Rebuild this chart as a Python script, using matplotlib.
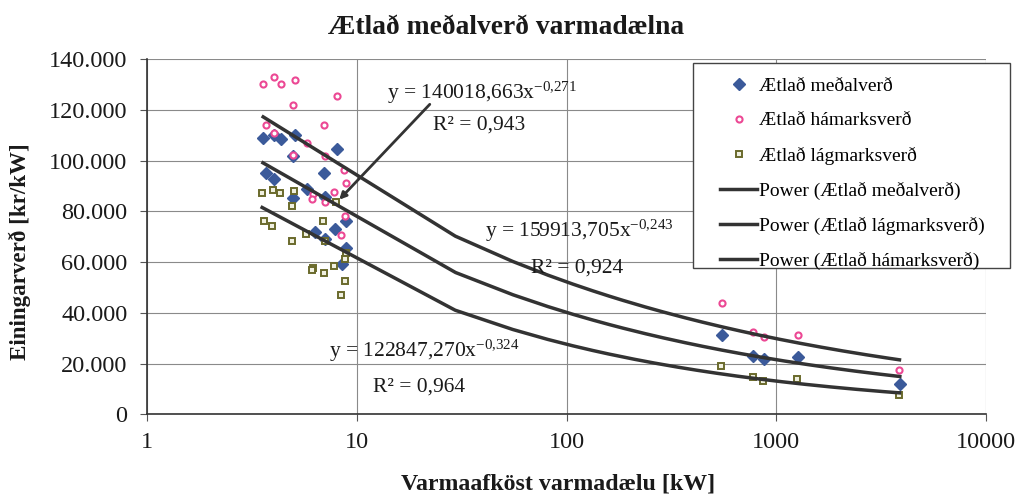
import numpy as np
import matplotlib
matplotlib.use("Agg")
import matplotlib.pyplot as plt
from matplotlib.patches import Rectangle

plt.rcParams['font.family'] = ['Liberation Serif', 'DejaVu Serif']
plt.rcParams['mathtext.fontset'] = 'custom'
plt.rcParams['mathtext.rm'] = 'Liberation Serif'
plt.rcParams['mathtext.it'] = 'Liberation Serif:italic'
plt.rcParams['mathtext.bf'] = 'Liberation Serif:bold'

# ---------------- data ----------------
title = "Ætlað meðalverð varmadælna"
xlabel = "Varmaafköst varmadælu [kW]"
ylabel = "Einingarverð [kr/kW]"

series_names = ["Ætlað meðalverð", "Ætlað hámarksverð", "Ætlað lágmarksverð"]

x_avg = [3.57, 4.03, 4.34, 5.09, 8.07, 4.97, 6.99, 3.69, 4.03, 5.82, 4.97, 7.07,
         8.91, 6.31, 7.91, 7.07, 8.91, 8.55, 551, 778, 873, 1267, 3883]
y_avg = [109000, 110300, 108700, 110000, 104500, 101900, 95100, 95300, 92900, 89000,
         85300, 85500, 76100, 71900, 72900, 69200, 65700, 59100, 31200, 22900, 21800,
         22450, 12000]

x_max = [3.58, 4.03, 4.34, 5.09, 8.07, 4.99, 3.68, 4.03, 6.96, 5.82, 4.97, 7.04,
         8.71, 8.84, 7.78, 6.21, 6.13, 7.04, 8.81, 8.43, 551, 778, 871, 1263, 3868]
y_max = [130400, 133000, 130400, 131900, 125600, 122100, 114200, 111000, 114200, 107100,
         102100, 101700, 96450, 91300, 87700, 86700, 85000, 83700, 78200, 70900,
         44000, 32500, 30500, 31400, 17500]

x_min = [3.54, 3.97, 4.29, 5.02, 4.93, 8.00, 3.62, 3.95, 6.91, 5.76, 4.93, 7.04,
         8.84, 8.79, 6.21, 6.13, 6.99, 7.76, 8.79, 8.41, 548, 775, 868, 1260, 3868]
y_min = [87300, 88600, 87300, 88050, 82000, 83900, 76200, 74100, 76200, 71300,
         68300, 68300, 63700, 61100, 57800, 57000, 55700, 58300, 52600, 47200,
         19000, 14600, 13200, 13800, 7600]

# power trendlines  y = a * x^b   (order: meðal, lág, hámarks)
fit_names = ["Power (Ætlað meðalverð)", "Power (Ætlað lágmarksverð)", "Power (Ætlað hámarksverð)"]
fit_a = [140018.663, 122847.270, 159913.705]
fit_b = [-0.271, -0.324, -0.243]
fit_r2 = [0.943, 0.964, 0.924]

xticks = [1, 10, 100, 1000, 10000]
xticklabels = ["1", "10", "100", "1000", "10000"]
yticks = [0, 20000, 40000, 60000, 80000, 100000, 120000, 140000]
yticklabels = ["0", "20.000", "40.000", "60.000", "80.000", "100.000", "120.000", "140.000"]

# ---------------- figure ----------------
W, H = 1017, 496
fig = plt.figure(figsize=(W / 100, H / 100), dpi=100)
ax = fig.add_axes([147 / W, 1 - 414.3 / H, (986 - 147) / W, (414.3 - 59.3) / H])

c_avg = '#3B5A9A'
c_max = '#EC4894'
c_min = '#6A6A2C'
c_line = '#333333'

ax.plot(x_avg, y_avg, ls='none', marker='D', ms=5.8, mfc=c_avg, mec=c_avg,
        label=series_names[0], zorder=3)
ax.plot(x_max, y_max, ls='none', marker='o', ms=4.4, mfc='white', mec=c_max, mew=1.5,
        label=series_names[1], zorder=3)
ax.plot(x_min, y_min, ls='none', marker='s', ms=4.2, mfc='#f0f0e0', mec=c_min, mew=1.4,
        label=series_names[2], zorder=3)

# Excel samples its trendline at evenly spaced x values (gives the kink on a log axis)
ranges = [x_avg, x_min, x_max]
for name, a, b, xs in zip(fit_names, fit_a, fit_b, ranges):
    xx = np.linspace(min(xs), max(xs), 150)
    ax.plot(xx, a * xx ** b, color=c_line, lw=2.5, label=name, zorder=4,
            solid_joinstyle='round')

ax.set_xscale('log')
ax.set_xlim(1, 10000)
ax.set_ylim(0, 140000)
ax.set_xticks(xticks)
ax.set_xticklabels(xticklabels)
ax.xaxis.set_minor_locator(matplotlib.ticker.NullLocator())
ax.set_yticks(yticks)
ax.set_yticklabels(yticklabels)
ax.tick_params(axis='both', labelsize=17.5, length=5, width=0.8, color='#555555',
               labelcolor='#1a1a1a')
ax.tick_params(axis='x', pad=8)
ax.tick_params(axis='y', pad=9)
ax.grid(True, which='major', color='#8a8a8a', lw=0.8)
ax.set_axisbelow(True)
for s in ['top', 'right']:
    ax.spines[s].set_visible(False)
for s in ['left', 'bottom']:
    ax.spines[s].set_color('#333333')
    ax.spines[s].set_linewidth(1.2)

fig.text(506 / W, 1 - 28 / H, title, fontsize=19.8, fontweight='bold', color='#1a1a1a',
         ha='center', va='center')
ax.set_xlabel(xlabel, fontsize=17.2, fontweight='bold', color='#1a1a1a', va='center')
ax.xaxis.set_label_coords((558 - 147) / 839, (414.3 - 484) / 355)
ax.set_ylabel(ylabel, fontsize=16.6, fontweight='bold', color='#1a1a1a', va='center')
ax.yaxis.set_label_coords((20 - 147) / 839, (414.3 - 252) / 355)


def fmt(v, d):
    return f"{v:.{d}f}".replace('.', ',')


def eq_text(a, b):
    return "y = " + fmt(a, 3) + "x$^{" + fmt(b, 3).replace(',', '{,}') + "}$"


# annotation positions (axes fraction) for meðal, lág, hámarks
ann_eq = [(0.2857, 0.890), (0.2173, 0.1623), (0.4029, 0.5003)]
ann_r2 = [(0.3405, 0.8008), (0.269, 0.0637), (0.4577, 0.3989)]
for a, b, r2, pe, pr in zip(fit_a, fit_b, fit_r2, ann_eq, ann_r2):
    ax.text(pe[0], pe[1], eq_text(a, b), transform=ax.transAxes, fontsize=15.5,
            va='baseline', ha='left', color='#1a1a1a', zorder=6)
    ax.text(pr[0], pr[1], "R² = " + fmt(r2, 3), transform=ax.transAxes, fontsize=15.5,
            va='baseline', ha='left', color='#1a1a1a', zorder=6)

# arrow from the meðalverð label to its trendline
ax.annotate("", xy=((337.3 - 147) / 839, 1 - (201.7 - 59.3) / 355), xycoords='axes fraction',
            xytext=((431.7 - 147) / 839, 1 - (102.3 - 59.3) / 355), textcoords='axes fraction',
            arrowprops=dict(arrowstyle='-|>', color='#333333', lw=2.0, mutation_scale=10),
            zorder=6)

# legend
leg = ax.legend(loc='upper left', bbox_to_anchor=((720 - 147) / 839 - 0.009, 0.9896 - 0.018),
                fontsize=14, frameon=False, handlelength=1.9, handletextpad=0.1,
                labelspacing=0.88, borderpad=0.4, borderaxespad=0)
leg.set_zorder(7)
ax.add_patch(Rectangle(((693 - 147) / 839, 1 - (268 - 59.3) / 355),
                       (1010 - 693) / 839, (268 - 63) / 355, transform=ax.transAxes,
                       facecolor='white', edgecolor='#444444', lw=1.0, clip_on=False,
                       zorder=6.5))

fig.savefig("out.png", dpi=100, facecolor='white')
